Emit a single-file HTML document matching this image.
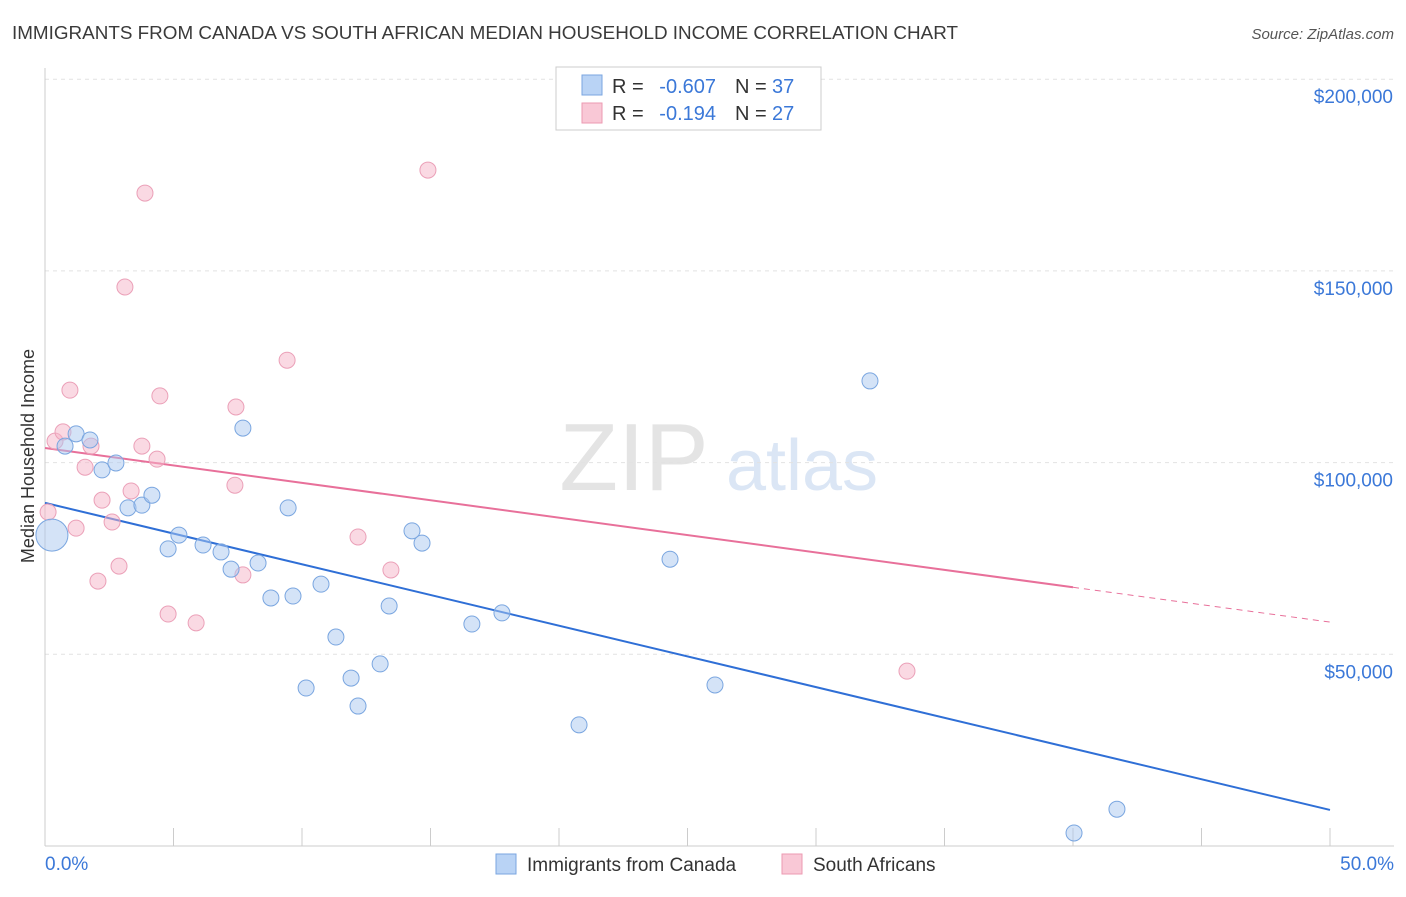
<!DOCTYPE html>
<html><head><meta charset="utf-8"><style>
body{margin:0;background:#fff;font-family:"Liberation Sans",sans-serif}
svg text{font-family:"Liberation Sans",sans-serif}
</style></head><body>
<svg id="chart" width="1406" height="892" xmlns="http://www.w3.org/2000/svg">
<text x="12" y="39" font-size="18" fill="#3a3a3a" textLength="946" lengthAdjust="spacingAndGlyphs">IMMIGRANTS FROM CANADA VS SOUTH AFRICAN MEDIAN HOUSEHOLD INCOME CORRELATION CHART</text>
<text x="1394" y="39" font-size="15" fill="#555" text-anchor="end" font-style="italic">Source: ZipAtlas.com</text>
<g><text x="634" y="490" font-size="96" fill="#e4e4e4" text-anchor="middle" font-family="Liberation Serif">ZIP</text><text x="802" y="490" font-size="72" fill="#dbe6f5" text-anchor="middle">atlas</text></g>
<g id="grid"></g><g id="axes"></g><g id="lines"></g><g id="pts"></g>
<text transform="translate(34,456) rotate(-90)" font-size="18" fill="#333" text-anchor="middle">Median Household Income</text>
<g>
<rect x="556" y="67" width="265" height="63" fill="#fff" stroke="#ccc"/>
<rect x="582" y="75" width="20" height="20" fill="#b9d3f5" stroke="#7aa6e0"/>
<text x="612" y="93" font-size="20" fill="#333">R =</text>
<text x="716" y="93" font-size="20" fill="#3b78d8" text-anchor="end">-0.607</text>
<text x="735" y="93" font-size="20" fill="#333">N =</text>
<text x="772" y="93" font-size="20" fill="#3b78d8">37</text>
<rect x="582" y="103" width="20" height="20" fill="#f9c8d6" stroke="#ec9ab2"/>
<text x="612" y="120" font-size="20" fill="#333">R =</text>
<text x="716" y="120" font-size="20" fill="#3b78d8" text-anchor="end">-0.194</text>
<text x="735" y="120" font-size="20" fill="#333">N =</text>
<text x="772" y="120" font-size="20" fill="#3b78d8">27</text>
</g>
<g>
<rect x="496" y="854" width="20" height="20" fill="#b9d3f5" stroke="#7aa6e0"/>
<text x="527" y="871" font-size="19" fill="#333">Immigrants from Canada</text>
<rect x="782" y="854" width="20" height="20" fill="#f9c8d6" stroke="#ec9ab2"/>
<text x="813" y="871" font-size="19" fill="#333">South Africans</text>
</g>
</svg>
<script>
const blueX=[0.27,0.78,1.21,1.75,2.22,2.76,3.23,3.77,4.16,4.79,5.21,6.15,6.85,7.24,7.70,8.29,8.79,9.46,9.65,10.16,10.74,11.32,11.91,12.18,13.04,13.39,14.28,14.67,16.61,17.78,20.78,24.32,26.07,32.10,40.04,41.71];
const blueY=[81.1,104.3,107.5,105.9,98.1,99.9,88.2,88.9,91.5,77.5,81.1,78.5,76.7,72.2,109.0,73.8,64.7,88.2,65.2,41.2,68.3,54.5,43.8,36.5,47.5,62.6,82.2,79.0,57.9,60.8,31.6,74.8,42.0,121.3,3.4,9.6];
const pinkX=[0.12,0.39,0.70,0.97,1.21,1.56,1.79,2.06,2.22,2.61,2.88,3.11,3.35,3.77,3.89,4.36,4.47,4.79,5.88,7.39,7.43,7.70,9.42,12.18,13.46,14.90,33.54];
const pinkY=[87.1,105.6,108.0,118.9,82.9,98.8,104.3,69.1,90.2,84.5,73.0,145.8,92.6,104.3,170.3,100.9,117.4,60.5,58.2,94.1,114.5,70.7,126.7,80.6,72.0,176.3,45.6];
const blueTrend=[89.5,9.4];
const pinkTrend=[103.8,58.4];
const pinkSolidEnd=40;
const yTicks=[50,100,150,200];
const yTickLabels=["$50,000","$100,000","$150,000","$200,000"];
const NS="http://www.w3.org/2000/svg";
const X=v=>45+v*25.7, Y=v=>846-v*3.834;
function mk(parent,tag,attrs){const e=document.createElementNS(NS,tag);for(const k in attrs)e.setAttribute(k,attrs[k]);document.getElementById(parent).appendChild(e);return e;}
yTicks.forEach((t,i)=>{
 const g=mk('grid','line',{x1:45,x2:1394,y1:Y(t),y2:Y(t),stroke:'#e2e2e2','stroke-dasharray':'4 4'});
 
 
 const l=mk('axes','text',{x:1393,y:Y(t)+24,'font-size':19,fill:'#3b78d8','text-anchor':'end'});l.textContent=yTickLabels[i];
 
 
});
const ax=mk('axes','line',{x1:45,x2:1394,y1:846,y2:846,stroke:'#ccc'});


const ay=mk('axes','line',{x1:45,x2:45,y1:68,y2:846,stroke:'#ccc'});


for(let i=0;i<=10;i++){const t=mk('axes','line',{x1:X(i*5),x2:X(i*5),y1:828,y2:846,stroke:'#ccc'});
 
 }
[["0.0%",45,"start"],["50.0%",1394,"end"]].forEach(a=>{const t=mk('axes','text',{x:a[1],y:870,'font-size':19,fill:'#3b78d8','text-anchor':a[2]});t.textContent=a[0];
 
 });
const bl=mk('lines','line',{x1:X(0),y1:Y(blueTrend[0]),x2:X(50),y2:Y(blueTrend[1]),stroke:'#2f6fd6','stroke-width':2});


const py=x=>pinkTrend[0]+(pinkTrend[1]-pinkTrend[0])*x/50;
const pl=mk('lines','line',{x1:X(0),y1:Y(py(0)),x2:X(pinkSolidEnd),y2:Y(py(pinkSolidEnd)),stroke:'#e8709a','stroke-width':2});


const pd=mk('lines','line',{x1:X(pinkSolidEnd),y1:Y(py(pinkSolidEnd)),x2:X(50),y2:Y(py(50)),stroke:'#e8709a','stroke-width':1,'stroke-dasharray':'6 5'});


pinkX.forEach((x,i)=>{const c=mk('pts','circle',{cx:X(x),cy:Y(pinkY[i]),r:8,fill:'rgba(246,180,200,0.5)',stroke:'#eba0b8'});
 
 });
blueX.forEach((x,i)=>{const c=mk('pts','circle',{cx:X(x),cy:Y(blueY[i]),r:i==0?16:8,fill:'rgba(170,200,240,0.5)',stroke:'#7aa6e0'});
 
 });
</script>
</body></html>
